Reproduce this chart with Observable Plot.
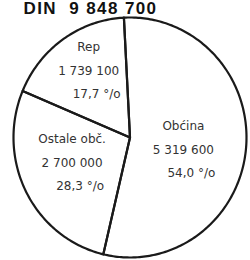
<!DOCTYPE html>
<html>
<head>
<meta charset="utf-8">
<script src="https://cdn.jsdelivr.net/npm/d3@7"></script>
<script src="https://cdn.jsdelivr.net/npm/@observablehq/plot@0.6"></script>
<style>
  html, body { margin: 0; padding: 0; background: #fff; }
  #chart { width: 250px; height: 260px; overflow: hidden; }
  .ttl text { letter-spacing: 1.4px; }
</style>
</head>
<body>
<div id="chart"></div>
<script>
// ---- data ----
const title = "DIN  9 848 700";
const categories = ["Obćina", "Ostale obč.", "Rep"];
const values = [5319600, 2700000, 1739100];
const valueLabels = ["5 319 600", "2 700 000", "1 739 100"];
const percentLabels = ["54,0 °/o", "28,3 °/o", "17,7 °/o"];

// ---- layout parameters ----
const startDeg = -3;               // first slice starts slightly left of top
const labelFrac = 0.54;            // angular position of label inside slice
const labelR = [0.47, 0.54, 0.66]; // radial position of label blocks
const total = d3.sum(values);

// slice angles (clockwise from top, degrees)
let acc = startDeg;
const slices = categories.map((c, i) => {
  const a0 = acc;
  const a1 = acc + values[i] / total * 360;
  acc = a1;
  return {c, i, a0, a1, mid: a0 + (a1 - a0) * labelFrac};
});
const rad = d => d * Math.PI / 180;

// wedge outlines
const wedgePts = [];
for (const s of slices) {
  wedgePts.push({c: s.c, x: 0, y: 0});
  const n = Math.ceil(s.a1 - s.a0);
  for (let k = 0; k <= n; k++) {
    const a = s.a0 + (s.a1 - s.a0) * k / n;
    wedgePts.push({c: s.c, x: Math.sin(rad(a)), y: Math.cos(rad(a))});
  }
  wedgePts.push({c: s.c, x: 0, y: 0});
}

// label anchors
const labels = slices.map(s => ({
  c: s.c,
  v: valueLabels[s.i],
  p: percentLabels[s.i],
  x: labelR[s.i] * Math.sin(rad(s.mid)),
  y: labelR[s.i] * Math.cos(rad(s.mid))
}));

const font = "DejaVu Sans, sans-serif";
const chart = Plot.plot({
  width: 250,
  height: 260,
  marginLeft: 13,
  marginRight: 4,
  marginTop: 17,
  marginBottom: 3,
  x: {domain: [-1, 1], axis: null},
  y: {domain: [-1, 1], axis: null},
  style: {background: "#fff", overflow: "visible"},
  marks: [
    Plot.line(wedgePts, {x: "x", y: "y", z: "c", stroke: "#1a1a1a", strokeWidth: 2.2, strokeLinejoin: "round"}),
    Plot.text(labels, {x: "x", y: "y", text: "c", dy: -24, fontSize: 12, fill: "#333", fontFamily: font}),
    Plot.text(labels, {x: "x", y: "y", text: "v", dy: 0, fontSize: 12, fill: "#333", fontFamily: font}),
    Plot.text(labels, {x: "x", y: "y", text: "p", dy: 23, dx: 8, fontSize: 12, fill: "#333", fontFamily: font}),
    Plot.text([title], {frameAnchor: "top-left", text: d => d, textAnchor: "start", lineAnchor: "bottom", dx: 10, dy: -4, fontSize: 17, fontWeight: "bold", fill: "#111", fontFamily: "Liberation Sans, Arial, sans-serif", className: "ttl"})
  ]
});
document.getElementById("chart").appendChild(chart);
</script>
</body>
</html>
